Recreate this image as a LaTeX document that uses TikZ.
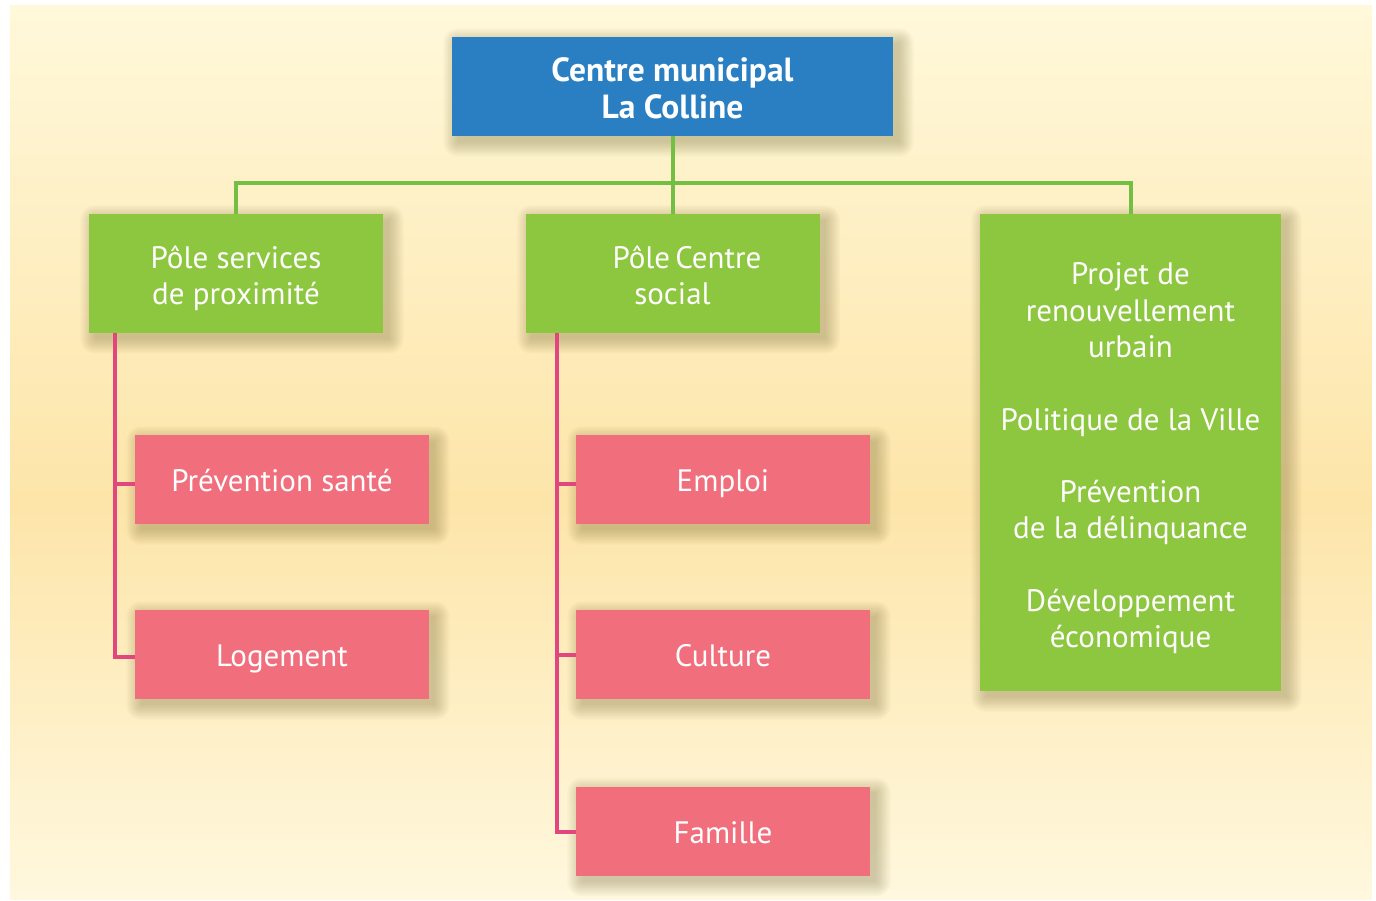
\documentclass[tikz,border=0pt]{standalone}
\usepackage{fontspec}
\setmainfont{PT Sans}
\definecolor{boxblue}{HTML}{2A7FC2}
\definecolor{boxgreen}{HTML}{8DC63F}
\definecolor{boxpink}{HTML}{F16E7D}
\definecolor{linegreen}{HTML}{72BF44}
\definecolor{linepink}{HTML}{E1467F}
\definecolor{bgtop}{HTML}{FFF8DA}
\definecolor{bgmid}{HTML}{FDE5A9}
\definecolor{bgbot}{HTML}{FFF8DF}
\definecolor{shadowcol}{HTML}{5E5520}
\pgfdeclarelayer{bgl}
\pgfdeclarelayer{shadowl}
\pgfdeclarelayer{lines}
\pgfsetlayers{bgl,shadowl,lines,main}
\tikzset{
  box/.style={rectangle, inner sep=0pt, text=white, align=center,
    font=\fontsize{31}{36.5}\selectfont},
  topbox/.style={box, fill=boxblue, minimum width=441pt, minimum height=99pt},
  polebox/.style={box, fill=boxgreen, minimum width=294pt, minimum height=119pt},
  bigbox/.style={box, fill=boxgreen, minimum width=301pt, minimum height=477pt},
  unitbox/.style={box, fill=boxpink, minimum width=294pt, minimum height=89pt,
    text height=24pt, text depth=0pt},
  boxtext/.style={inner sep=0pt, text=white, align=center,
    font=\fontsize{31}{36.5}\selectfont},
  toptext/.style={boxtext, font=\fontsize{33.5}{36.5}\selectfont\bfseries},
  bigtext/.style={boxtext, font=\fontsize{31}{36.3}\selectfont},
  greenline/.style={draw=linegreen, line width=4pt},
  pinkline/.style={draw=linepink, line width=4pt},
  shadowpiece/.style={fill=shadowcol, opacity=0.032},
}
\newcommand{\mydropshadow}[1]{%
  \foreach \k in {0,...,9}{%
    \fill[shadowpiece, rounded corners=\k*1.6pt]
      ([shift={({6-\k*1.6},{6-\k*1.6})}]#1.north west) rectangle
      ([shift={({6+\k*1.6},{6+\k*1.6})}]#1.south east);
  }%
}
\begin{document}
\begin{tikzpicture}[x=1pt,y=-1pt]
\useasboundingbox (0,0) rectangle (1376,901);
\begin{pgfonlayer}{bgl}
  \fill[white] (0,0) rectangle (1376,901);
  \foreach \i in {0,...,178}{%
    \pgfmathsetmacro{\yy}{5+5*\i}%
    \pgfmathsetmacro{\pp}{ifthenelse(\yy<500,(500-\yy)/4.95,(\yy-500)/4.0)}%
    \ifdim\yy pt<500pt
      \fill[bgtop!\pp!bgmid] (10,\yy) rectangle (1372,\yy+5.8);
    \else
      \fill[bgbot!\pp!bgmid] (10,\yy) rectangle (1372,{min(\yy+5.8,900)});
    \fi
  }
\end{pgfonlayer}

\node[topbox] (top) at (672.5,86.5) {};
\node[toptext] (toptx) at ([yshift=-2pt]top.center) {Centre municipal\\La Colline};
\node[polebox] (g1) at (236,273.5) {};
\node[boxtext] (g1tx) at ([yshift=-5pt]g1.center) {Pôle services\\de proximité};
\node[polebox] (g2) at (672.5,273.5) {};
\node[boxtext] (g2tx) at ([yshift=-2pt]g2.center) {\hspace*{29pt}Pôle\,Centre\\social};
\node[bigbox] (g3) at (1130.5,452.5) {};
\node[bigtext] (g3tx) at ([yshift=-6pt]g3.center) {Projet de\\renouvellement\\urbain\\[36.3pt]Politique de la Ville\\[36.3pt]Prévention\\de la délinquance\\[36.3pt]Développement\\économique};

\node[unitbox] (p1) at (282,479.5) {Prévention santé};
\node[unitbox] (p2) at (282,654.5) {Logement};
\node[unitbox] (e1) at (723,479.5) {Emploi};
\node[unitbox] (e2) at (723,654.5) {Culture};
\node[unitbox] (e3) at (723,831) {Famille};

\begin{pgfonlayer}{shadowl}
  \foreach \n in {top,g1,g2,g3,p1,p2,e1,e2,e3}{\mydropshadow{\n}}
\end{pgfonlayer}

\coordinate (bus) at (672.5,183);
\coordinate (xl) at (115,0);
\coordinate (xm) at (557,0);

\begin{pgfonlayer}{lines}
  \draw[greenline] (top.south) -- (g2.north);
  \draw[greenline, line join=miter] (g1.north) |- (bus) -| (g3.north);
  \draw[pinkline, line join=miter] (xl |- g1.south) |- ([yshift=-2pt]p2.west);
  \draw[pinkline] (xl |- 0,484) -- (p1.west |- 0,484);
  \draw[pinkline, line join=miter] (xm |- g2.south) |- ([yshift=-1pt]e3.west);
  \draw[pinkline] (xm |- 0,484) -- (e1.west |- 0,484);
  \draw[pinkline] (xm |- 0,655) -- (e2.west |- 0,655);
\end{pgfonlayer}
\end{tikzpicture}
\end{document}
